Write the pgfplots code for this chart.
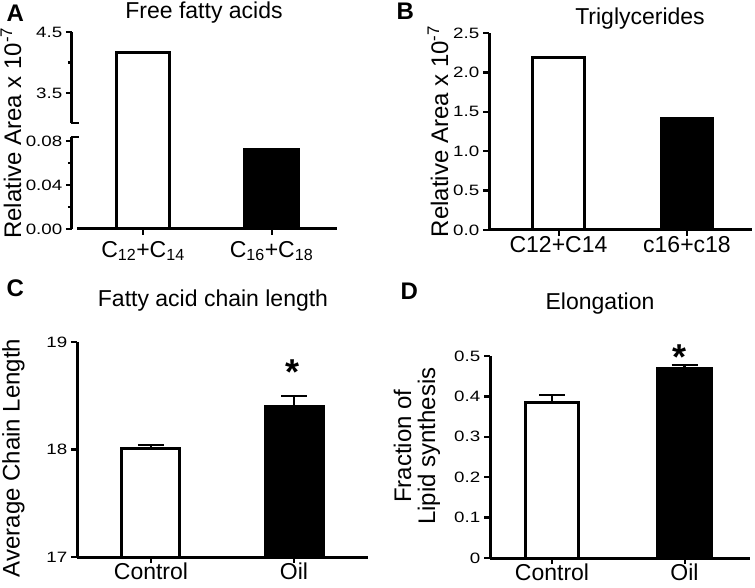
\documentclass[border=0pt]{standalone}
\usepackage{fontspec}
\setmainfont{Liberation Sans}
\newfontfamily\tickfont[FakeStretch=1.25]{Liberation Sans}
\usepackage{pgfplots}
\pgfplotsset{compat=1.18}

% shared look of the four panels (1pt = 1px of the reference)
\pgfplotsset{
  prism/.style={
    scale only axis,
    anchor=south west,
    axis lines=left,
    axis line style={-, line width=3pt},
    tick align=outside,
    major tick length=6pt,
    minor tick length=4pt,
    tick style={black, line width=2.5pt},
    x tick style={line width=2pt},
    xtick={0,1},
    clip mode=individual,
    yticklabel style={font=\tickfont\fontsize{15}{15}\selectfont, inner sep=0pt, xshift=-3.5pt},
    xticklabel style={font=\fontsize{23}{23}\selectfont, inner sep=0pt, yshift=0pt},
    ybar,
  },
  wbar/.style={fill=white, draw=black, line width=3pt, bar shift=0pt},
  kbar/.style={fill=black, draw=black, line width=3pt, bar shift=0pt},
  errs/.style={error bars/.cd, y dir=plus, y explicit,
    error bar style={line width=2.5pt},
    error mark options={rotate=90, mark size=13pt, line width=2.5pt}},
}

\begin{document}
\begin{tikzpicture}
\useasboundingbox (0,0) rectangle (755pt,587pt);

% ---- A: free fatty acids, broken y axis
\begin{axis}[prism, at={(72pt,358pt)}, width=265pt, height=197pt,
  xmin=-0.5525, xmax=1.5097, ymin=0, ymax=4.5,
  y coord trafo/.code={\pgfmathparse{(#1<1)*(#1*1100)+(#1>=1)*(106+(#1-3)*61)}},
  y coord inv trafo/.code={\pgfmathparse{(#1<99)*(#1/1100)+(#1>=99)*(3+(#1-106)/61)}},
  ytick={0,0.04,0.08,3.5,4.5}, yticklabels={0.00,0.04,0.08,3.5,4.5},
  minor ytick={0.02,0.06,4},
  xticklabels={{C\textsubscript{12}+C\textsubscript{14}},{C\textsubscript{16}+C\textsubscript{18}}},
  xticklabel style={yshift=-6pt},
  y axis line style={draw=none}, x axis line style={draw=none},
  bar width=0.42]
\addplot[wbar] coordinates {(0,4.16)};
\addplot[kbar] coordinates {(1,0.0727)};
\draw[line width=3pt] (rel axis cs:0,0) -- (rel axis cs:0,0.467);
\draw[line width=3pt] (rel axis cs:0,0.538) -- (rel axis cs:0,1);
\draw[line width=2.5pt] (rel axis cs:-0.005,0.467) -- (rel axis cs:0.026,0.467);
\draw[line width=2.5pt] (rel axis cs:-0.005,0.538) -- (rel axis cs:0.026,0.538);
\draw[line width=3pt] (rel axis cs:0.019,0) -- (rel axis cs:1,0);
\end{axis}

% ---- B: triglycerides
\begin{axis}[prism, at={(489pt,357pt)}, width=263pt, height=197pt,
  xmin=-0.541, xmax=1.506, ymin=0, ymax=2.5,
  ytick={0,0.5,1,1.5,2,2.5}, yticklabels={0.0,0.5,1.0,1.5,2.0,2.5},
  xticklabels={C12+C14,c16+c18},
  bar width=0.40]
\addplot[wbar] coordinates {(0,2.195)};
\addplot[kbar] coordinates {(1,1.41)};
\end{axis}

% ---- C: fatty acid chain length
\begin{axis}[prism, at={(77pt,30pt)}, width=291pt, height=215pt,
  xmin=-0.517, xmax=1.517, ymin=17, ymax=19,
  ytick={17,18,19}, yticklabels={17,18,19},
  xticklabels={Control,Oil},
  bar width=0.405]
\addplot[wbar, errs] coordinates {(0,18.01) +- (0,0.03)};
\addplot[kbar, errs] coordinates {(1,18.40) +- (0,0.10)};
\end{axis}

% ---- D: elongation
\begin{axis}[prism, at={(490pt,29pt)}, width=260pt, height=202pt,
  xmin=-0.468, xmax=1.494, ymin=0, ymax=0.5,
  ytick={0,0.1,0.2,0.3,0.4,0.5}, yticklabels={0,0.1,0.2,0.3,0.4,0.5},
  xticklabels={Control,Oil},
  bar width=0.404]
\addplot[wbar, errs] coordinates {(0,0.384) +- (0,0.019)};
\addplot[kbar, errs] coordinates {(1,0.468) +- (0,0.010)};
\end{axis}

% titles, panel letters, axis labels
\begin{scope}[every node/.style={font=\fontsize{23}{27}\selectfont}]
\node[anchor=base] at (204pt,568.5pt) {Free fatty acids};
\node[anchor=base] at (640pt,562pt) {Triglycerides};
\node[anchor=base] at (213pt,280pt) {Fatty acid chain length};
\node[anchor=base] at (600pt,277pt) {Elongation};
\end{scope}
\begin{scope}[every node/.style={font=\fontsize{24}{24}\selectfont\bfseries, anchor=base west}]
\node at (3pt,565pt) {A};
\node at (393pt,567pt) {B};
\node at (3pt,290pt) {C};
\node at (397pt,287pt) {D};
\end{scope}
\begin{scope}[every node/.style={font=\fontsize{24}{24}\selectfont, rotate=90, anchor=center}]
\node at (11pt,454pt) {Relative Area x 10\textsuperscript{-7}};
\node at (438pt,455.5pt) {Relative Area x 10\textsuperscript{-7}};
\node at (13.5pt,129pt) {Average Chain Length};
\node[align=center] at (417pt,141pt) {Fraction of\\Lipid synthesis};
\end{scope}
\node[anchor=base, font=\fontsize{36}{36}\selectfont\bfseries] at (292.5pt,202.5pt) {*};
\node[anchor=base, font=\fontsize{36}{36}\selectfont\bfseries] at (679pt,217pt) {*};
\end{tikzpicture}
\end{document}
